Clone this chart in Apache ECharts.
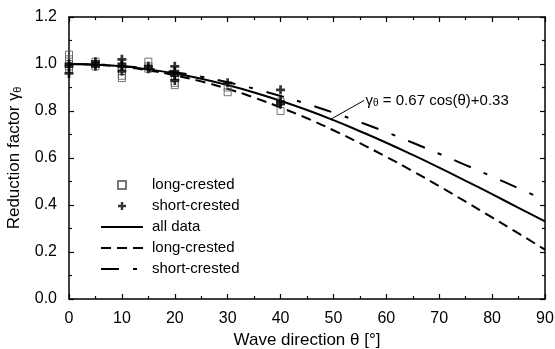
<!DOCTYPE html>
<html><head><meta charset="utf-8">
<script src="https://cdn.jsdelivr.net/npm/echarts@6/dist/echarts.min.js"></script>
<style>html,body{margin:0;padding:0;background:#fff}#c{width:555px;height:349px}</style>
</head><body><div id="c"></div>
<script>
// Measured points
const longCrestedPts = [
  [0,1.04],[0,1.02],[0,1.0],[0,0.99],[0,0.98],
  [5,1.01],[5,1.0],[5,0.99],
  [10,0.99],[10,0.97],[10,0.95],[10,0.94],
  [15,1.01],[15,0.99],[15,0.98],
  [20,0.94],[20,0.92],[20,0.91],
  [30,0.90],[30,0.88],
  [40,0.84],[40,0.80]
];
const shortCrestedPts = [
  [0,1.0],[0,0.99],[0,0.96],
  [5,1.01],[5,1.0],[5,0.99],
  [10,1.02],[10,1.0],[10,0.99],[10,0.97],
  [15,0.99],[15,0.98],
  [20,0.99],[20,0.97],[20,0.95],[20,0.93],
  [30,0.92],
  [40,0.89],[40,0.84],[40,0.83]
];
// Fitted curves read at 5-degree steps
const theta = [0,5,10,15,20,25,30,35,40,45,50,55,60,65,70,75,80,85,90];
const fitAll   = [1.000,0.997,0.990,0.977,0.960,0.937,0.910,0.879,0.843,0.804,0.761,0.714,0.665,0.613,0.559,0.503,0.446,0.388,0.330];
const fitLong  = [1.000,0.997,0.988,0.973,0.952,0.926,0.894,0.857,0.815,0.769,0.718,0.663,0.605,0.544,0.480,0.414,0.347,0.279,0.210];
const fitShort = [1.000,0.998,0.991,0.980,0.965,0.946,0.922,0.895,0.864,0.830,0.793,0.753,0.710,0.665,0.618,0.570,0.521,0.471,0.420];
const annLeader = [[49.5,0.765],[55.8,0.845]];
const annText = '{g|γ}{s|θ}{t| = 0.67 cos(θ)+0.33}';

const FONT = 'Liberation Sans, Arial, sans-serif';
const pair = (xs, ys) => xs.map((x,i)=>[x,ys[i]]);
const plusPath = 'path://M3.5,0H6.5V3.5H10V6.5H6.5V10H3.5V6.5H0V3.5H3.5Z';
const squarePath = 'path://M0,0H10V10H0Z';

const chart = echarts.init(document.getElementById('c'), null, {renderer:'canvas'});
const axisCommon = {
  axisLine:{show:true,onZero:false,lineStyle:{color:'#000',width:1.5}},
  axisTick:{show:true,inside:true,length:5,lineStyle:{color:'#000',width:1.2}},
  minorTick:{show:true,splitNumber:2,length:3,lineStyle:{color:'#000',width:1.2}},
  splitLine:{show:false}
};
const hideSym = {opacity:0};
chart.setOption({
  animation:false,
  grid:{left:69,right:10,top:17,bottom:50,containLabel:false,outerBoundsMode:'none'},
  legend:{
    orient:'vertical', left:95, top:172, itemWidth:42, itemHeight:8, itemGap:5,
    symbolKeepAspect:true,
    textStyle:{fontFamily:FONT,fontSize:15,color:'#000',lineHeight:16,padding:[0,0,0,4]},
    formatter: n => n.trim(),
    data:[
      {name:'long-crested'},
      {name:'short-crested'},
      {name:'all data',itemStyle:hideSym},
      {name:'long-crested ',itemStyle:hideSym},
      {name:'short-crested ',itemStyle:hideSym}
    ]
  },
  xAxis:[
    Object.assign({type:'value',min:0,max:90,interval:10,position:'bottom',
      name:'Wave direction θ [°]',nameLocation:'middle',nameGap:32,
      nameTextStyle:{fontFamily:FONT,fontSize:17,color:'#000'},
      axisLabel:{fontFamily:FONT,fontSize:16,color:'#000',margin:12}}, axisCommon),
    Object.assign({type:'value',min:0,max:90,interval:10,position:'top',axisLabel:{show:false}}, axisCommon)
  ],
  yAxis:[
    Object.assign({type:'value',min:0,max:1.2,interval:0.2,position:'left',
      name:'Reduction factor {g|γ}{s|θ}',nameLocation:'middle',nameGap:46,
      nameTextStyle:{fontFamily:FONT,fontSize:17,color:'#000',
        rich:{g:{fontFamily:FONT,fontSize:16,color:'#000'},s:{fontFamily:FONT,fontSize:11,color:'#000',verticalAlign:'bottom',padding:[6,0,0,0]}}},
      axisLabel:{fontFamily:FONT,fontSize:16,color:'#000',margin:12,formatter:v=>v.toFixed(1)}}, axisCommon),
    Object.assign({type:'value',min:0,max:1.2,interval:0.2,position:'right',axisLabel:{show:false}}, axisCommon)
  ],
  series:[
    {name:'all data',type:'line',data:pair(theta,fitAll),smooth:true,symbol:'none',
      lineStyle:{color:'#000',width:2},itemStyle:{color:'#000'},z:3,
      markLine:{silent:true,symbol:'none',lineStyle:{color:'#000',width:1,type:'solid'},label:{show:false},
        data:[[{coord:annLeader[0]},{coord:annLeader[1]}]]},
      markPoint:{silent:true,symbol:'circle',symbolSize:1,itemStyle:{color:'rgba(0,0,0,0)'},
        data:[{coord:annLeader[1],label:{show:true,position:'right',distance:1,formatter:annText,
          rich:{g:{fontFamily:FONT,fontSize:15,color:'#000'},s:{fontFamily:FONT,fontSize:10,color:'#000',padding:[6,0,0,0]},t:{fontFamily:FONT,fontSize:15,color:'#000'}}}}]}},
    {name:'long-crested ',type:'line',data:pair(theta,fitLong),smooth:true,symbol:'none',
      lineStyle:{color:'#000',width:2,type:[10,6]},itemStyle:{color:'#000'},z:3},
    {name:'short-crested ',type:'line',data:pair(theta,fitShort),smooth:true,symbol:'none',
      lineStyle:{color:'#000',width:2,type:[18,14,4,14]},itemStyle:{color:'#000'},z:3},
    {name:'long-crested',type:'scatter',data:longCrestedPts,symbol:squarePath,symbolSize:7,
      itemStyle:{color:'rgba(255,255,255,0)',borderColor:'#555',borderWidth:1},z:4},
    {name:'short-crested',type:'scatter',data:shortCrestedPts,symbol:plusPath,symbolSize:9,
      itemStyle:{color:'#000'},z:5}
  ]
});
</script></body></html>
